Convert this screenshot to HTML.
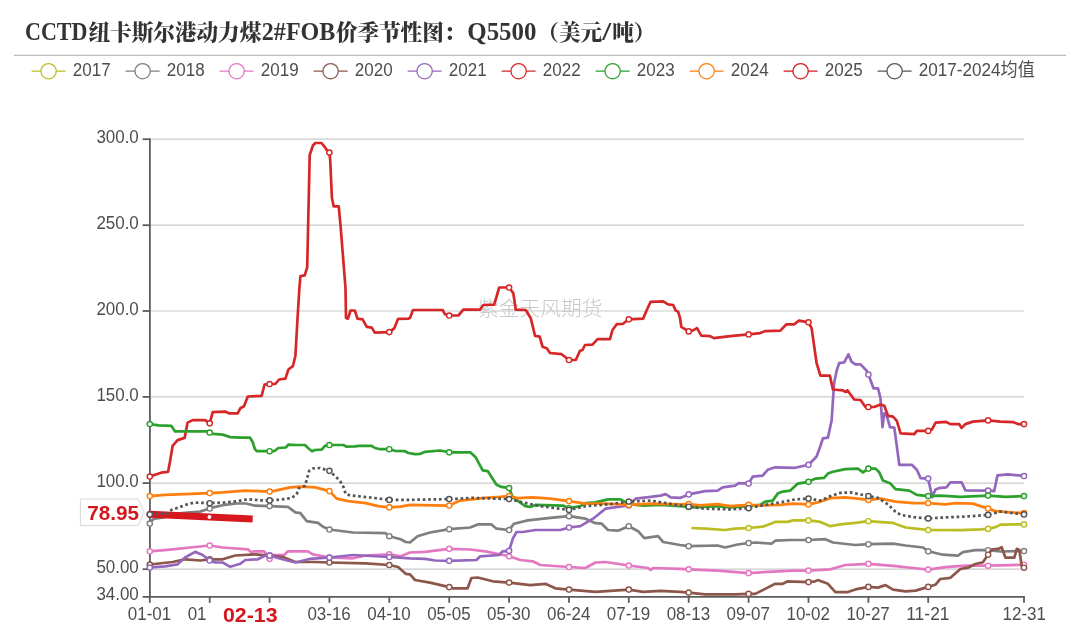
<!DOCTYPE html>
<html lang="zh-CN"><head><meta charset="utf-8"><title>CCTD纽卡斯尔港动力煤2#FOB价季节性图</title>
<style>
html,body{margin:0;padding:0;background:#fff;}
body{width:1080px;height:630px;overflow:hidden;position:relative;}
svg{display:block;position:absolute;left:0;top:0;}
.t{font-family:"Liberation Serif","Noto Serif CJK SC",serif;font-weight:900;font-size:21.6px;fill:#333;}
.lg{font-family:"Liberation Sans","Noto Sans CJK SC",sans-serif;font-size:18px;fill:#4d4d4d;}
.ax{font-family:"Liberation Sans","Noto Sans CJK SC",sans-serif;font-size:18px;fill:#4d4d4d;}
.hl{font-family:"Liberation Sans","Noto Sans CJK SC",sans-serif;font-weight:700;font-size:20.3px;fill:#d6161f;}
.wm{font-family:"Liberation Sans","Noto Sans CJK SC",sans-serif;font-weight:300;font-size:20.7px;fill:#c9c9c9;}
.tl{font-size:24.4px;}
</style></head><body>
<svg width="1080" height="630" viewBox="0 0 1080 630">
<rect width="1080" height="630" fill="#fff"/>

<text class="t" y="40"><tspan class="tl" x="25" textLength="62.5" lengthAdjust="spacingAndGlyphs">CCTD</tspan><tspan x="88.5">纽卡斯尔港动力煤</tspan><tspan class="tl" x="261.8" textLength="73.6" lengthAdjust="spacingAndGlyphs">2#FOB</tspan><tspan x="335.9">价季节性图：</tspan><tspan class="tl" x="467.3" textLength="69.2" lengthAdjust="spacingAndGlyphs">Q5500</tspan><tspan x="537.3">（美元</tspan><tspan class="tl" x="602.3" textLength="9" lengthAdjust="spacingAndGlyphs">/</tspan><tspan x="612.2">吨）</tspan></text>
<line x1="14" y1="55.4" x2="1066" y2="55.4" stroke="#bdbdbd" stroke-width="1.3"/>
<g><line x1="31.6" y1="71.2" x2="65.6" y2="71.2" stroke="#bcbd22" stroke-width="1.3"/><circle cx="48.6" cy="71.2" r="7.65" fill="#fff" stroke="#bcbd22" stroke-width="1.3"/>
<text class="lg" x="72.8" y="75.5" textLength="37.8" lengthAdjust="spacingAndGlyphs">2017</text></g>
<g><line x1="125.6" y1="71.2" x2="159.6" y2="71.2" stroke="#7f7f7f" stroke-width="1.3"/><circle cx="142.6" cy="71.2" r="7.65" fill="#fff" stroke="#7f7f7f" stroke-width="1.3"/>
<text class="lg" x="166.8" y="75.5" textLength="37.8" lengthAdjust="spacingAndGlyphs">2018</text></g>
<g><line x1="219.6" y1="71.2" x2="253.6" y2="71.2" stroke="#e377c2" stroke-width="1.3"/><circle cx="236.6" cy="71.2" r="7.65" fill="#fff" stroke="#e377c2" stroke-width="1.3"/>
<text class="lg" x="260.8" y="75.5" textLength="37.8" lengthAdjust="spacingAndGlyphs">2019</text></g>
<g><line x1="313.6" y1="71.2" x2="347.6" y2="71.2" stroke="#8c564b" stroke-width="1.3"/><circle cx="330.6" cy="71.2" r="7.65" fill="#fff" stroke="#8c564b" stroke-width="1.3"/>
<text class="lg" x="354.8" y="75.5" textLength="37.8" lengthAdjust="spacingAndGlyphs">2020</text></g>
<g><line x1="407.6" y1="71.2" x2="441.6" y2="71.2" stroke="#9467bd" stroke-width="1.3"/><circle cx="424.6" cy="71.2" r="7.65" fill="#fff" stroke="#9467bd" stroke-width="1.3"/>
<text class="lg" x="448.8" y="75.5" textLength="37.8" lengthAdjust="spacingAndGlyphs">2021</text></g>
<g><line x1="501.6" y1="71.2" x2="535.6" y2="71.2" stroke="#d62728" stroke-width="1.3"/><circle cx="518.6" cy="71.2" r="7.65" fill="#fff" stroke="#d62728" stroke-width="1.3"/>
<text class="lg" x="542.8" y="75.5" textLength="37.8" lengthAdjust="spacingAndGlyphs">2022</text></g>
<g><line x1="595.6" y1="71.2" x2="629.6" y2="71.2" stroke="#2ca02c" stroke-width="1.3"/><circle cx="612.6" cy="71.2" r="7.65" fill="#fff" stroke="#2ca02c" stroke-width="1.3"/>
<text class="lg" x="636.8" y="75.5" textLength="37.8" lengthAdjust="spacingAndGlyphs">2023</text></g>
<g><line x1="689.6" y1="71.2" x2="723.6" y2="71.2" stroke="#ff7f0e" stroke-width="1.3"/><circle cx="706.6" cy="71.2" r="7.65" fill="#fff" stroke="#ff7f0e" stroke-width="1.3"/>
<text class="lg" x="730.8" y="75.5" textLength="37.8" lengthAdjust="spacingAndGlyphs">2024</text></g>
<g><line x1="783.6" y1="71.2" x2="817.6" y2="71.2" stroke="#d7191f" stroke-width="1.3"/><circle cx="800.6" cy="71.2" r="7.65" fill="#fff" stroke="#d7191f" stroke-width="1.3"/>
<text class="lg" x="824.8" y="75.5" textLength="37.8" lengthAdjust="spacingAndGlyphs">2025</text></g>
<g><line x1="877.6" y1="71.2" x2="911.6" y2="71.2" stroke="#555555" stroke-width="1.3"/><circle cx="894.6" cy="71.2" r="7.65" fill="#fff" stroke="#555555" stroke-width="1.3"/>
<text class="lg" x="918.8" y="75.5" textLength="116" lengthAdjust="spacingAndGlyphs">2017-2024均值</text></g>
<line x1="150" y1="139.2" x2="1024" y2="139.2" stroke="#cacaca" stroke-width="1.2"/>
<line x1="150" y1="225.2" x2="1024" y2="225.2" stroke="#cacaca" stroke-width="1.2"/>
<line x1="150" y1="311.0" x2="1024" y2="311.0" stroke="#cacaca" stroke-width="1.2"/>
<line x1="150" y1="396.9" x2="1024" y2="396.9" stroke="#cacaca" stroke-width="1.2"/>
<line x1="150" y1="483.1" x2="1024" y2="483.1" stroke="#cacaca" stroke-width="1.2"/>
<line x1="150" y1="569.2" x2="1024" y2="569.2" stroke="#cacaca" stroke-width="1.2"/>
<text class="wm" x="478" y="315.5" textLength="124.5" lengthAdjust="spacingAndGlyphs">紫金天风期货</text>
<line x1="149.9" y1="138.4" x2="149.9" y2="597.8" stroke="#5c5c5c" stroke-width="1.8"/>
<line x1="149" y1="596.9" x2="1024.9" y2="596.9" stroke="#5c5c5c" stroke-width="1.8"/>
<line x1="142.6" y1="139.2" x2="150" y2="139.2" stroke="#5c5c5c" stroke-width="1.8"/>
<text class="ax" x="138.8" y="143.4" text-anchor="end" textLength="42.4" lengthAdjust="spacingAndGlyphs">300.0</text>
<line x1="142.6" y1="225.2" x2="150" y2="225.2" stroke="#5c5c5c" stroke-width="1.8"/>
<text class="ax" x="138.8" y="229.4" text-anchor="end" textLength="42.4" lengthAdjust="spacingAndGlyphs">250.0</text>
<line x1="142.6" y1="311.0" x2="150" y2="311.0" stroke="#5c5c5c" stroke-width="1.8"/>
<text class="ax" x="138.8" y="315.2" text-anchor="end" textLength="42.4" lengthAdjust="spacingAndGlyphs">200.0</text>
<line x1="142.6" y1="396.9" x2="150" y2="396.9" stroke="#5c5c5c" stroke-width="1.8"/>
<text class="ax" x="138.8" y="401.1" text-anchor="end" textLength="42.4" lengthAdjust="spacingAndGlyphs">150.0</text>
<line x1="142.6" y1="483.1" x2="150" y2="483.1" stroke="#5c5c5c" stroke-width="1.8"/>
<text class="ax" x="138.8" y="487.3" text-anchor="end" textLength="42.4" lengthAdjust="spacingAndGlyphs">100.0</text>
<line x1="142.6" y1="569.2" x2="150" y2="569.2" stroke="#5c5c5c" stroke-width="1.8"/>
<text class="ax" x="138.8" y="573.4" text-anchor="end" textLength="42.4" lengthAdjust="spacingAndGlyphs">50.00</text>
<line x1="142.6" y1="596.9" x2="150" y2="596.9" stroke="#5c5c5c" stroke-width="1.8"/>
<text class="ax" x="138.8" y="600.2" text-anchor="end" textLength="42.4" lengthAdjust="spacingAndGlyphs">34.00</text>
<line x1="149.8" y1="596.9" x2="149.8" y2="602.8" stroke="#5c5c5c" stroke-width="1.8"/>
<text class="ax" x="149.5" y="620" text-anchor="middle" textLength="43.4" lengthAdjust="spacingAndGlyphs">01-01</text>
<line x1="209.7" y1="596.9" x2="209.7" y2="602.8" stroke="#5c5c5c" stroke-width="1.8"/>
<text class="ax" x="209.4" y="620" text-anchor="middle" textLength="43.4" lengthAdjust="spacingAndGlyphs">01-26</text>
<line x1="269.6" y1="596.9" x2="269.6" y2="602.8" stroke="#5c5c5c" stroke-width="1.8"/>
<line x1="329.4" y1="596.9" x2="329.4" y2="602.8" stroke="#5c5c5c" stroke-width="1.8"/>
<text class="ax" x="329.1" y="620" text-anchor="middle" textLength="43.4" lengthAdjust="spacingAndGlyphs">03-16</text>
<line x1="389.3" y1="596.9" x2="389.3" y2="602.8" stroke="#5c5c5c" stroke-width="1.8"/>
<text class="ax" x="389.0" y="620" text-anchor="middle" textLength="43.4" lengthAdjust="spacingAndGlyphs">04-10</text>
<line x1="449.2" y1="596.9" x2="449.2" y2="602.8" stroke="#5c5c5c" stroke-width="1.8"/>
<text class="ax" x="448.9" y="620" text-anchor="middle" textLength="43.4" lengthAdjust="spacingAndGlyphs">05-05</text>
<line x1="509.1" y1="596.9" x2="509.1" y2="602.8" stroke="#5c5c5c" stroke-width="1.8"/>
<text class="ax" x="508.8" y="620" text-anchor="middle" textLength="43.4" lengthAdjust="spacingAndGlyphs">05-30</text>
<line x1="569.0" y1="596.9" x2="569.0" y2="602.8" stroke="#5c5c5c" stroke-width="1.8"/>
<text class="ax" x="568.7" y="620" text-anchor="middle" textLength="43.4" lengthAdjust="spacingAndGlyphs">06-24</text>
<line x1="628.8" y1="596.9" x2="628.8" y2="602.8" stroke="#5c5c5c" stroke-width="1.8"/>
<text class="ax" x="628.5" y="620" text-anchor="middle" textLength="43.4" lengthAdjust="spacingAndGlyphs">07-19</text>
<line x1="688.7" y1="596.9" x2="688.7" y2="602.8" stroke="#5c5c5c" stroke-width="1.8"/>
<text class="ax" x="688.4" y="620" text-anchor="middle" textLength="43.4" lengthAdjust="spacingAndGlyphs">08-13</text>
<line x1="748.6" y1="596.9" x2="748.6" y2="602.8" stroke="#5c5c5c" stroke-width="1.8"/>
<text class="ax" x="748.3" y="620" text-anchor="middle" textLength="43.4" lengthAdjust="spacingAndGlyphs">09-07</text>
<line x1="808.5" y1="596.9" x2="808.5" y2="602.8" stroke="#5c5c5c" stroke-width="1.8"/>
<text class="ax" x="808.2" y="620" text-anchor="middle" textLength="43.4" lengthAdjust="spacingAndGlyphs">10-02</text>
<line x1="868.4" y1="596.9" x2="868.4" y2="602.8" stroke="#5c5c5c" stroke-width="1.8"/>
<text class="ax" x="868.1" y="620" text-anchor="middle" textLength="43.4" lengthAdjust="spacingAndGlyphs">10-27</text>
<line x1="928.2" y1="596.9" x2="928.2" y2="602.8" stroke="#5c5c5c" stroke-width="1.8"/>
<text class="ax" x="927.9" y="620" text-anchor="middle" textLength="43.4" lengthAdjust="spacingAndGlyphs">11-21</text>
<line x1="1024.0" y1="596.9" x2="1024.0" y2="602.8" stroke="#5c5c5c" stroke-width="1.8"/>
<text class="ax" x="1024.3" y="620" text-anchor="middle" textLength="43.4" lengthAdjust="spacingAndGlyphs">12-31</text>
<g><path d="M691.3 528.0 L705.1 528.7 L725.1 530.0 L735.1 528.7 L748.6 528.0 L762.7 526.7 L775.2 521.9 L787.8 521.9 L792.8 520.4 L808.5 520.4 L820.4 521.9 L830.4 526.2 L840.4 524.4 L855.4 522.9 L868.4 521.2 L878.0 521.9 L893.0 522.9 L905.6 527.5 L915.6 528.7 L928.2 530.0 L960.4 530.2 L980.4 529.4 L988.1 528.9 L995.5 527.1 L1000.5 524.6 L1024.0 524.4" fill="none" stroke="#bcbd22" stroke-width="2.7" stroke-linejoin="round"/>
<circle cx="748.6" cy="528.0" r="2.6" fill="#fff" stroke="#bcbd22" stroke-width="1.45"/>
<circle cx="808.5" cy="520.4" r="2.6" fill="#fff" stroke="#bcbd22" stroke-width="1.45"/>
<circle cx="868.4" cy="521.2" r="2.6" fill="#fff" stroke="#bcbd22" stroke-width="1.45"/>
<circle cx="928.2" cy="530.0" r="2.6" fill="#fff" stroke="#bcbd22" stroke-width="1.45"/>
<circle cx="988.1" cy="528.9" r="2.6" fill="#fff" stroke="#bcbd22" stroke-width="1.45"/>
<circle cx="1024.0" cy="524.4" r="2.6" fill="#fff" stroke="#bcbd22" stroke-width="1.45"/>
</g>
<g><path d="M149.8 523.6 L151.5 520.5 L154.5 518.6 L164.0 517.5 L167.0 516.0 L182.0 513.2 L200.0 511.6 L205.0 510.0 L209.7 508.5 L212.0 507.6 L222.7 505.2 L236.4 503.5 L246.0 503.5 L255.3 505.7 L269.6 506.1 L287.9 506.9 L295.4 512.4 L300.4 513.2 L306.7 521.2 L318.0 522.9 L323.0 526.7 L329.4 529.5 L353.0 532.5 L385.6 533.2 L389.3 536.2 L400.7 539.2 L405.7 542.0 L410.0 542.5 L417.5 536.2 L430.0 532.5 L449.2 529.2 L470.2 527.5 L477.7 524.4 L491.5 524.4 L496.5 528.7 L509.1 530.0 L514.0 523.7 L527.8 520.4 L550.4 517.9 L569.0 516.2 L585.4 518.7 L595.5 523.2 L601.7 523.7 L608.0 530.0 L618.0 530.7 L628.8 526.2 L638.1 531.2 L644.3 538.2 L658.1 536.2 L663.1 542.0 L680.0 545.0 L688.7 546.2 L717.6 545.5 L725.1 547.5 L737.6 544.5 L748.6 543.0 L755.2 542.5 L771.5 543.7 L775.2 540.7 L790.3 540.0 L808.5 540.0 L825.4 539.2 L832.9 542.5 L855.4 545.0 L868.4 544.2 L893.0 543.7 L905.6 545.5 L923.1 547.5 L928.2 551.3 L942.8 554.7 L957.9 555.7 L962.9 552.2 L975.4 550.2 L988.1 550.2 L1000.5 551.5 L1024.0 551.0" fill="none" stroke="#7f7f7f" stroke-width="2.7" stroke-linejoin="round"/>
<circle cx="149.8" cy="523.6" r="2.6" fill="#fff" stroke="#7f7f7f" stroke-width="1.45"/>
<circle cx="209.7" cy="508.5" r="2.6" fill="#fff" stroke="#7f7f7f" stroke-width="1.45"/>
<circle cx="269.6" cy="506.1" r="2.6" fill="#fff" stroke="#7f7f7f" stroke-width="1.45"/>
<circle cx="329.4" cy="529.5" r="2.6" fill="#fff" stroke="#7f7f7f" stroke-width="1.45"/>
<circle cx="389.3" cy="536.2" r="2.6" fill="#fff" stroke="#7f7f7f" stroke-width="1.45"/>
<circle cx="449.2" cy="529.2" r="2.6" fill="#fff" stroke="#7f7f7f" stroke-width="1.45"/>
<circle cx="509.1" cy="530.0" r="2.6" fill="#fff" stroke="#7f7f7f" stroke-width="1.45"/>
<circle cx="569.0" cy="516.2" r="2.6" fill="#fff" stroke="#7f7f7f" stroke-width="1.45"/>
<circle cx="628.8" cy="526.2" r="2.6" fill="#fff" stroke="#7f7f7f" stroke-width="1.45"/>
<circle cx="688.7" cy="546.2" r="2.6" fill="#fff" stroke="#7f7f7f" stroke-width="1.45"/>
<circle cx="748.6" cy="543.0" r="2.6" fill="#fff" stroke="#7f7f7f" stroke-width="1.45"/>
<circle cx="808.5" cy="540.0" r="2.6" fill="#fff" stroke="#7f7f7f" stroke-width="1.45"/>
<circle cx="868.4" cy="544.2" r="2.6" fill="#fff" stroke="#7f7f7f" stroke-width="1.45"/>
<circle cx="928.2" cy="551.3" r="2.6" fill="#fff" stroke="#7f7f7f" stroke-width="1.45"/>
<circle cx="988.1" cy="550.2" r="2.6" fill="#fff" stroke="#7f7f7f" stroke-width="1.45"/>
<circle cx="1024.0" cy="551.0" r="2.6" fill="#fff" stroke="#7f7f7f" stroke-width="1.45"/>
</g>
<g><path d="M149.8 551.3 L172.6 549.3 L190.1 547.5 L209.7 545.5 L222.7 547.5 L247.8 549.3 L251.5 552.5 L254.0 551.3 L264.1 551.3 L269.6 558.8 L272.8 555.0 L284.1 555.0 L287.9 551.3 L307.9 551.3 L312.9 554.3 L329.4 557.5 L353.0 558.3 L365.6 555.5 L389.3 554.3 L400.7 556.3 L410.0 552.5 L425.0 551.8 L449.2 548.8 L470.2 549.5 L485.2 551.3 L509.1 556.3 L520.3 560.0 L532.8 561.3 L540.3 565.0 L569.0 567.0 L585.4 568.0 L595.5 562.5 L605.5 562.0 L628.8 565.5 L648.1 568.0 L650.6 570.0 L653.1 568.0 L680.0 568.8 L688.7 569.3 L717.6 570.6 L748.6 573.1 L767.7 571.8 L792.8 570.6 L808.5 570.6 L830.4 569.3 L845.4 565.0 L868.4 563.8 L893.0 565.8 L913.1 568.0 L928.2 569.6 L945.3 567.2 L965.4 565.7 L988.1 565.7 L1010.5 565.2 L1024.0 564.7" fill="none" stroke="#e377c2" stroke-width="2.7" stroke-linejoin="round"/>
<circle cx="149.8" cy="551.3" r="2.6" fill="#fff" stroke="#e377c2" stroke-width="1.45"/>
<circle cx="209.7" cy="545.5" r="2.6" fill="#fff" stroke="#e377c2" stroke-width="1.45"/>
<circle cx="269.6" cy="558.8" r="2.6" fill="#fff" stroke="#e377c2" stroke-width="1.45"/>
<circle cx="329.4" cy="557.5" r="2.6" fill="#fff" stroke="#e377c2" stroke-width="1.45"/>
<circle cx="389.3" cy="554.3" r="2.6" fill="#fff" stroke="#e377c2" stroke-width="1.45"/>
<circle cx="449.2" cy="548.8" r="2.6" fill="#fff" stroke="#e377c2" stroke-width="1.45"/>
<circle cx="509.1" cy="556.3" r="2.6" fill="#fff" stroke="#e377c2" stroke-width="1.45"/>
<circle cx="569.0" cy="567.0" r="2.6" fill="#fff" stroke="#e377c2" stroke-width="1.45"/>
<circle cx="628.8" cy="565.5" r="2.6" fill="#fff" stroke="#e377c2" stroke-width="1.45"/>
<circle cx="688.7" cy="569.3" r="2.6" fill="#fff" stroke="#e377c2" stroke-width="1.45"/>
<circle cx="748.6" cy="573.1" r="2.6" fill="#fff" stroke="#e377c2" stroke-width="1.45"/>
<circle cx="808.5" cy="570.6" r="2.6" fill="#fff" stroke="#e377c2" stroke-width="1.45"/>
<circle cx="868.4" cy="563.8" r="2.6" fill="#fff" stroke="#e377c2" stroke-width="1.45"/>
<circle cx="928.2" cy="569.6" r="2.6" fill="#fff" stroke="#e377c2" stroke-width="1.45"/>
<circle cx="988.1" cy="565.7" r="2.6" fill="#fff" stroke="#e377c2" stroke-width="1.45"/>
<circle cx="1024.0" cy="564.7" r="2.6" fill="#fff" stroke="#e377c2" stroke-width="1.45"/>
</g>
<g><path d="M149.8 564.5 L172.6 562.0 L185.1 559.3 L200.2 560.5 L209.7 559.3 L222.7 559.3 L235.2 555.5 L255.3 554.3 L269.6 555.5 L282.9 557.0 L295.4 562.0 L315.4 562.0 L329.4 562.5 L365.6 563.3 L389.3 565.0 L398.1 567.0 L405.7 573.8 L410.0 574.3 L415.0 580.0 L430.0 582.6 L449.2 587.1 L452.6 588.3 L467.6 588.3 L471.4 578.0 L477.7 577.5 L492.7 581.3 L509.1 582.6 L530.3 585.1 L545.3 583.8 L555.4 588.3 L569.0 589.6 L595.5 591.8 L610.5 590.8 L628.8 589.6 L643.1 591.8 L660.6 590.8 L680.0 591.8 L688.7 592.6 L705.1 594.4 L735.1 594.4 L748.6 593.9 L755.2 593.9 L765.2 588.9 L775.2 583.8 L782.8 583.8 L787.8 581.3 L808.5 582.1 L815.3 581.3 L817.8 580.1 L827.9 583.8 L835.4 592.1 L847.9 592.1 L855.4 589.4 L868.4 586.9 L878.0 587.6 L885.5 585.1 L893.0 589.6 L905.6 591.4 L915.6 590.6 L928.2 586.9 L935.3 584.8 L940.3 579.0 L950.4 577.8 L960.4 569.0 L967.9 567.7 L975.4 564.0 L982.9 562.2 L988.1 554.7 L991.7 549.7 L998.0 548.9 L1001.7 547.2 L1005.5 557.7 L1014.3 557.7 L1016.8 548.9 L1019.3 549.7 L1021.8 566.5 L1024.0 567.7" fill="none" stroke="#8c564b" stroke-width="2.7" stroke-linejoin="round"/>
<circle cx="149.8" cy="564.5" r="2.6" fill="#fff" stroke="#8c564b" stroke-width="1.45"/>
<circle cx="209.7" cy="559.3" r="2.6" fill="#fff" stroke="#8c564b" stroke-width="1.45"/>
<circle cx="269.6" cy="555.5" r="2.6" fill="#fff" stroke="#8c564b" stroke-width="1.45"/>
<circle cx="329.4" cy="562.5" r="2.6" fill="#fff" stroke="#8c564b" stroke-width="1.45"/>
<circle cx="389.3" cy="565.0" r="2.6" fill="#fff" stroke="#8c564b" stroke-width="1.45"/>
<circle cx="449.2" cy="587.1" r="2.6" fill="#fff" stroke="#8c564b" stroke-width="1.45"/>
<circle cx="509.1" cy="582.6" r="2.6" fill="#fff" stroke="#8c564b" stroke-width="1.45"/>
<circle cx="569.0" cy="589.6" r="2.6" fill="#fff" stroke="#8c564b" stroke-width="1.45"/>
<circle cx="628.8" cy="589.6" r="2.6" fill="#fff" stroke="#8c564b" stroke-width="1.45"/>
<circle cx="688.7" cy="592.6" r="2.6" fill="#fff" stroke="#8c564b" stroke-width="1.45"/>
<circle cx="748.6" cy="593.9" r="2.6" fill="#fff" stroke="#8c564b" stroke-width="1.45"/>
<circle cx="808.5" cy="582.1" r="2.6" fill="#fff" stroke="#8c564b" stroke-width="1.45"/>
<circle cx="868.4" cy="586.9" r="2.6" fill="#fff" stroke="#8c564b" stroke-width="1.45"/>
<circle cx="928.2" cy="586.9" r="2.6" fill="#fff" stroke="#8c564b" stroke-width="1.45"/>
<circle cx="988.1" cy="554.7" r="2.6" fill="#fff" stroke="#8c564b" stroke-width="1.45"/>
<circle cx="1024.0" cy="567.7" r="2.6" fill="#fff" stroke="#8c564b" stroke-width="1.45"/>
</g>
<g><path d="M149.8 567.5 L165.0 566.3 L177.6 564.3 L185.1 557.5 L195.1 551.8 L202.7 555.0 L209.7 560.5 L215.2 562.5 L222.7 562.5 L230.2 566.8 L240.3 563.8 L245.3 560.0 L257.8 559.3 L265.3 555.5 L269.6 555.5 L280.4 558.8 L295.4 562.5 L310.4 558.8 L329.4 557.5 L353.0 555.0 L389.3 557.0 L410.0 558.3 L425.0 558.8 L435.0 560.5 L449.2 560.8 L476.4 560.0 L480.2 556.3 L499.0 555.0 L502.7 551.3 L509.1 550.8 L512.8 538.7 L516.5 532.0 L522.8 532.0 L535.3 530.0 L560.4 530.0 L569.0 527.5 L580.4 526.2 L593.0 518.7 L605.5 508.7 L618.0 506.9 L628.8 505.4 L635.6 498.6 L650.6 496.9 L660.6 495.6 L665.6 494.1 L670.7 497.4 L680.0 497.9 L688.7 494.4 L705.1 491.1 L717.6 490.6 L722.6 487.4 L735.1 485.6 L738.9 483.1 L748.6 483.6 L752.7 476.6 L762.7 475.6 L767.7 469.8 L775.2 467.3 L795.3 467.8 L808.5 464.8 L816.6 456.5 L820.4 446.0 L822.9 438.4 L827.9 437.6 L831.6 420.8 L834.1 383.2 L836.6 370.7 L839.1 363.2 L844.2 362.4 L848.4 354.4 L851.7 361.9 L855.4 364.4 L860.5 364.4 L866.7 370.7 L868.4 374.5 L873.5 388.3 L878.0 388.3 L880.5 398.3 L882.5 427.1 L884.3 413.3 L886.8 415.8 L890.0 427.1 L894.3 427.6 L896.8 446.0 L899.3 464.8 L911.8 464.8 L916.8 469.8 L920.6 478.1 L928.2 478.6 L932.3 497.3 L935.3 489.8 L939.1 488.1 L946.6 487.3 L950.4 482.3 L961.6 482.3 L965.4 490.3 L988.1 490.6 L994.2 491.1 L997.5 475.3 L1008.0 474.3 L1024.0 476.0" fill="none" stroke="#9467bd" stroke-width="2.7" stroke-linejoin="round"/>
<circle cx="149.8" cy="567.5" r="2.6" fill="#fff" stroke="#9467bd" stroke-width="1.45"/>
<circle cx="209.7" cy="560.5" r="2.6" fill="#fff" stroke="#9467bd" stroke-width="1.45"/>
<circle cx="269.6" cy="555.5" r="2.6" fill="#fff" stroke="#9467bd" stroke-width="1.45"/>
<circle cx="329.4" cy="557.5" r="2.6" fill="#fff" stroke="#9467bd" stroke-width="1.45"/>
<circle cx="389.3" cy="557.0" r="2.6" fill="#fff" stroke="#9467bd" stroke-width="1.45"/>
<circle cx="449.2" cy="560.8" r="2.6" fill="#fff" stroke="#9467bd" stroke-width="1.45"/>
<circle cx="509.1" cy="550.8" r="2.6" fill="#fff" stroke="#9467bd" stroke-width="1.45"/>
<circle cx="569.0" cy="527.5" r="2.6" fill="#fff" stroke="#9467bd" stroke-width="1.45"/>
<circle cx="628.8" cy="505.4" r="2.6" fill="#fff" stroke="#9467bd" stroke-width="1.45"/>
<circle cx="688.7" cy="494.4" r="2.6" fill="#fff" stroke="#9467bd" stroke-width="1.45"/>
<circle cx="748.6" cy="483.6" r="2.6" fill="#fff" stroke="#9467bd" stroke-width="1.45"/>
<circle cx="808.5" cy="464.8" r="2.6" fill="#fff" stroke="#9467bd" stroke-width="1.45"/>
<circle cx="868.4" cy="374.5" r="2.6" fill="#fff" stroke="#9467bd" stroke-width="1.45"/>
<circle cx="928.2" cy="478.6" r="2.6" fill="#fff" stroke="#9467bd" stroke-width="1.45"/>
<circle cx="988.1" cy="490.6" r="2.6" fill="#fff" stroke="#9467bd" stroke-width="1.45"/>
<circle cx="1024.0" cy="476.0" r="2.6" fill="#fff" stroke="#9467bd" stroke-width="1.45"/>
</g>
<g><path d="M149.8 476.6 L155.0 474.8 L162.6 472.3 L168.1 471.8 L170.1 461.0 L172.6 445.9 L177.6 440.1 L184.6 437.9 L187.6 422.6 L192.6 420.1 L205.2 420.1 L209.7 423.3 L212.7 412.1 L225.2 411.6 L229.0 413.3 L237.7 413.3 L240.3 408.3 L244.0 406.3 L247.8 396.5 L261.6 395.8 L264.6 384.5 L269.6 384.0 L275.3 384.0 L279.1 379.5 L285.4 378.7 L288.4 369.5 L292.9 366.2 L295.4 355.7 L297.4 320.6 L299.4 288.0 L300.4 276.1 L304.7 275.4 L307.2 267.3 L309.7 155.1 L312.9 145.5 L315.4 143.0 L321.5 143.0 L324.2 146.3 L327.5 151.0 L329.4 152.5 L330.2 160.0 L331.9 197.7 L333.7 206.4 L338.7 206.4 L340.5 225.2 L343.5 262.8 L345.5 288.0 L346.0 318.0 L348.0 318.6 L350.5 310.5 L354.8 310.5 L357.5 318.6 L362.6 319.3 L366.8 326.8 L371.8 327.6 L374.8 332.6 L389.3 332.1 L394.4 328.1 L398.1 318.8 L408.2 318.6 L410.0 318.0 L413.0 310.0 L442.6 310.0 L445.0 314.3 L449.2 315.5 L458.3 315.5 L463.3 309.7 L480.0 309.7 L483.3 305.0 L494.2 304.7 L499.2 287.5 L509.1 287.5 L513.3 293.3 L515.8 309.7 L525.8 310.0 L530.8 318.3 L535.0 335.8 L539.7 336.7 L542.5 346.7 L546.7 348.3 L550.0 353.0 L561.7 354.2 L569.0 360.0 L575.8 360.0 L580.0 350.8 L582.5 350.0 L585.0 345.0 L592.5 344.7 L597.5 339.2 L610.0 339.2 L612.5 330.0 L616.7 324.2 L623.0 323.8 L628.8 319.3 L643.1 318.6 L646.8 310.0 L650.6 301.8 L663.1 301.3 L668.1 304.3 L673.2 305.0 L675.7 310.6 L678.2 311.8 L680.0 318.0 L681.3 326.8 L688.7 331.4 L692.5 330.6 L697.0 328.1 L701.3 335.6 L710.1 336.1 L713.8 338.1 L730.1 336.1 L748.6 334.4 L760.2 333.1 L765.2 331.1 L780.3 330.6 L786.5 324.3 L794.0 324.3 L799.0 320.6 L808.5 322.3 L811.6 328.1 L816.6 363.2 L820.4 375.7 L829.9 375.7 L832.9 389.5 L842.9 390.3 L845.4 392.0 L847.4 390.3 L854.2 399.5 L860.5 400.0 L865.5 407.0 L874.2 407.0 L880.5 404.5 L884.3 405.8 L888.0 415.8 L893.0 416.6 L896.8 420.8 L900.6 433.4 L914.3 434.1 L916.8 430.9 L928.2 430.9 L931.9 429.6 L935.6 422.6 L945.7 421.8 L950.4 424.1 L959.1 424.1 L961.6 427.9 L965.4 424.1 L972.9 421.6 L988.1 420.4 L1000.5 421.6 L1013.0 422.1 L1018.0 424.1 L1024.0 424.1" fill="none" stroke="#d62728" stroke-width="2.7" stroke-linejoin="round"/>
<circle cx="149.8" cy="476.6" r="2.6" fill="#fff" stroke="#d62728" stroke-width="1.45"/>
<circle cx="209.7" cy="423.3" r="2.6" fill="#fff" stroke="#d62728" stroke-width="1.45"/>
<circle cx="269.6" cy="384.0" r="2.6" fill="#fff" stroke="#d62728" stroke-width="1.45"/>
<circle cx="329.4" cy="152.5" r="2.6" fill="#fff" stroke="#d62728" stroke-width="1.45"/>
<circle cx="389.3" cy="332.1" r="2.6" fill="#fff" stroke="#d62728" stroke-width="1.45"/>
<circle cx="449.2" cy="315.5" r="2.6" fill="#fff" stroke="#d62728" stroke-width="1.45"/>
<circle cx="509.1" cy="287.5" r="2.6" fill="#fff" stroke="#d62728" stroke-width="1.45"/>
<circle cx="569.0" cy="360.0" r="2.6" fill="#fff" stroke="#d62728" stroke-width="1.45"/>
<circle cx="628.8" cy="319.3" r="2.6" fill="#fff" stroke="#d62728" stroke-width="1.45"/>
<circle cx="688.7" cy="331.4" r="2.6" fill="#fff" stroke="#d62728" stroke-width="1.45"/>
<circle cx="748.6" cy="334.4" r="2.6" fill="#fff" stroke="#d62728" stroke-width="1.45"/>
<circle cx="808.5" cy="322.3" r="2.6" fill="#fff" stroke="#d62728" stroke-width="1.45"/>
<circle cx="868.4" cy="407.0" r="2.6" fill="#fff" stroke="#d62728" stroke-width="1.45"/>
<circle cx="928.2" cy="430.9" r="2.6" fill="#fff" stroke="#d62728" stroke-width="1.45"/>
<circle cx="988.1" cy="420.4" r="2.6" fill="#fff" stroke="#d62728" stroke-width="1.45"/>
<circle cx="1024.0" cy="424.1" r="2.6" fill="#fff" stroke="#d62728" stroke-width="1.45"/>
</g>
<g><path d="M149.8 424.1 L158.8 425.3 L171.3 425.8 L175.1 431.4 L207.7 431.4 L209.7 432.6 L212.7 433.9 L222.7 434.6 L230.2 437.1 L240.0 437.6 L250.0 437.7 L252.5 441.7 L255.0 449.2 L256.7 451.2 L269.6 451.2 L274.2 451.2 L278.3 448.0 L285.8 447.5 L288.3 444.7 L296.7 445.0 L305.0 445.0 L308.3 448.3 L312.0 451.3 L315.0 450.0 L321.7 449.7 L325.0 445.8 L329.4 445.0 L343.3 445.0 L346.7 446.7 L355.0 446.3 L358.3 445.8 L371.7 445.8 L375.0 448.0 L380.0 449.2 L389.3 449.2 L395.0 450.8 L405.0 451.2 L408.3 453.0 L415.0 454.2 L420.0 454.0 L425.0 451.8 L440.0 450.5 L449.2 452.3 L470.2 452.3 L475.7 457.3 L482.7 470.3 L487.7 471.1 L496.5 484.8 L501.5 486.9 L509.1 488.1 L512.8 497.4 L525.3 506.2 L530.3 506.9 L535.3 504.9 L562.9 505.6 L569.0 508.2 L580.4 506.2 L585.4 503.1 L595.5 502.4 L608.0 499.4 L620.5 499.4 L628.8 504.1 L643.1 505.6 L660.6 504.9 L680.0 506.2 L695.0 507.4 L717.6 506.2 L730.1 507.4 L748.6 506.2 L760.2 504.9 L765.2 501.6 L772.7 500.6 L777.7 493.6 L782.8 491.6 L790.3 490.6 L797.8 483.6 L808.5 481.8 L815.3 478.6 L824.1 477.8 L827.9 473.6 L832.9 471.8 L845.4 469.1 L857.9 468.6 L863.0 472.3 L868.4 468.6 L875.5 468.6 L879.2 472.3 L883.0 480.6 L890.5 483.6 L895.5 489.1 L909.3 490.6 L916.8 494.9 L928.2 496.1 L940.3 495.6 L960.4 496.8 L988.1 495.6 L1005.5 496.8 L1024.0 496.1" fill="none" stroke="#2ca02c" stroke-width="2.7" stroke-linejoin="round"/>
<circle cx="149.8" cy="424.1" r="2.6" fill="#fff" stroke="#2ca02c" stroke-width="1.45"/>
<circle cx="209.7" cy="432.6" r="2.6" fill="#fff" stroke="#2ca02c" stroke-width="1.45"/>
<circle cx="269.6" cy="451.2" r="2.6" fill="#fff" stroke="#2ca02c" stroke-width="1.45"/>
<circle cx="329.4" cy="445.0" r="2.6" fill="#fff" stroke="#2ca02c" stroke-width="1.45"/>
<circle cx="389.3" cy="449.2" r="2.6" fill="#fff" stroke="#2ca02c" stroke-width="1.45"/>
<circle cx="449.2" cy="452.3" r="2.6" fill="#fff" stroke="#2ca02c" stroke-width="1.45"/>
<circle cx="509.1" cy="488.1" r="2.6" fill="#fff" stroke="#2ca02c" stroke-width="1.45"/>
<circle cx="569.0" cy="508.2" r="2.6" fill="#fff" stroke="#2ca02c" stroke-width="1.45"/>
<circle cx="628.8" cy="504.1" r="2.6" fill="#fff" stroke="#2ca02c" stroke-width="1.45"/>
<circle cx="688.7" cy="506.9" r="2.6" fill="#fff" stroke="#2ca02c" stroke-width="1.45"/>
<circle cx="748.6" cy="506.2" r="2.6" fill="#fff" stroke="#2ca02c" stroke-width="1.45"/>
<circle cx="808.5" cy="481.8" r="2.6" fill="#fff" stroke="#2ca02c" stroke-width="1.45"/>
<circle cx="868.4" cy="468.6" r="2.6" fill="#fff" stroke="#2ca02c" stroke-width="1.45"/>
<circle cx="928.2" cy="496.1" r="2.6" fill="#fff" stroke="#2ca02c" stroke-width="1.45"/>
<circle cx="988.1" cy="495.6" r="2.6" fill="#fff" stroke="#2ca02c" stroke-width="1.45"/>
<circle cx="1024.0" cy="496.1" r="2.6" fill="#fff" stroke="#2ca02c" stroke-width="1.45"/>
</g>
<g><path d="M149.8 496.1 L165.1 494.9 L209.7 493.1 L222.7 492.4 L245.3 490.6 L269.6 491.6 L275.3 490.6 L290.4 487.4 L300.4 486.6 L315.4 487.4 L329.4 491.1 L336.7 498.6 L348.0 501.1 L365.6 503.1 L378.1 506.1 L389.3 507.4 L400.7 506.7 L410.0 504.9 L435.0 505.4 L449.2 505.6 L460.1 500.6 L485.2 497.9 L500.2 496.9 L509.1 496.1 L517.8 498.1 L532.8 497.4 L550.4 498.6 L569.0 501.1 L585.4 503.6 L605.5 503.6 L628.8 504.9 L650.6 503.6 L680.0 504.4 L688.7 504.1 L700.0 505.4 L717.6 504.1 L730.1 506.2 L748.6 504.9 L762.7 505.4 L780.3 504.9 L792.8 503.6 L808.5 504.4 L817.8 502.4 L830.4 498.1 L845.4 497.4 L857.9 498.6 L868.4 499.9 L880.5 498.6 L895.5 501.6 L913.1 503.1 L928.2 503.1 L945.3 504.3 L955.4 503.1 L972.9 503.6 L988.1 508.6 L995.5 511.1 L1010.5 512.4 L1024.0 513.1" fill="none" stroke="#ff7f0e" stroke-width="2.7" stroke-linejoin="round"/>
<circle cx="149.8" cy="496.1" r="2.6" fill="#fff" stroke="#ff7f0e" stroke-width="1.45"/>
<circle cx="209.7" cy="493.1" r="2.6" fill="#fff" stroke="#ff7f0e" stroke-width="1.45"/>
<circle cx="269.6" cy="491.6" r="2.6" fill="#fff" stroke="#ff7f0e" stroke-width="1.45"/>
<circle cx="329.4" cy="491.1" r="2.6" fill="#fff" stroke="#ff7f0e" stroke-width="1.45"/>
<circle cx="389.3" cy="507.4" r="2.6" fill="#fff" stroke="#ff7f0e" stroke-width="1.45"/>
<circle cx="449.2" cy="505.6" r="2.6" fill="#fff" stroke="#ff7f0e" stroke-width="1.45"/>
<circle cx="509.1" cy="496.1" r="2.6" fill="#fff" stroke="#ff7f0e" stroke-width="1.45"/>
<circle cx="569.0" cy="501.1" r="2.6" fill="#fff" stroke="#ff7f0e" stroke-width="1.45"/>
<circle cx="628.8" cy="504.9" r="2.6" fill="#fff" stroke="#ff7f0e" stroke-width="1.45"/>
<circle cx="688.7" cy="504.1" r="2.6" fill="#fff" stroke="#ff7f0e" stroke-width="1.45"/>
<circle cx="748.6" cy="504.9" r="2.6" fill="#fff" stroke="#ff7f0e" stroke-width="1.45"/>
<circle cx="808.5" cy="504.4" r="2.6" fill="#fff" stroke="#ff7f0e" stroke-width="1.45"/>
<circle cx="868.4" cy="499.9" r="2.6" fill="#fff" stroke="#ff7f0e" stroke-width="1.45"/>
<circle cx="928.2" cy="503.1" r="2.6" fill="#fff" stroke="#ff7f0e" stroke-width="1.45"/>
<circle cx="988.1" cy="508.6" r="2.6" fill="#fff" stroke="#ff7f0e" stroke-width="1.45"/>
<circle cx="1024.0" cy="513.1" r="2.6" fill="#fff" stroke="#ff7f0e" stroke-width="1.45"/>
</g>
<g><path d="M150 514.2 L252.7 518.9" fill="none" stroke="#d7191f" stroke-width="7"/><circle cx="150" cy="514.2" r="3.5" fill="#d7191f"/><circle cx="209.4" cy="517" r="1.9" fill="#fff"/></g>
<g><path d="M149.8 514.4 L160.0 513.8 L168.0 513.4 L171.3 510.0 L179.8 507.0 L188.2 504.0 L194.2 502.6 L209.7 503.2 L224.3 502.5 L236.4 501.3 L248.4 499.2 L260.5 500.3 L269.6 500.4 L280.0 499.7 L291.7 498.0 L296.7 494.2 L298.7 488.3 L305.0 485.8 L309.2 470.8 L313.3 468.3 L320.0 468.0 L329.4 470.8 L340.0 480.8 L343.3 486.7 L345.8 494.2 L350.0 495.3 L370.0 497.5 L389.3 499.9 L411.7 499.8 L449.2 499.1 L472.7 497.9 L495.2 498.6 L509.1 499.1 L522.8 502.4 L540.3 506.2 L569.0 509.9 L585.4 506.2 L610.5 504.1 L628.8 501.6 L650.6 500.6 L680.0 505.4 L688.7 506.7 L705.1 508.7 L730.1 509.4 L748.6 508.2 L762.7 505.4 L780.3 502.4 L795.3 499.4 L808.5 498.6 L820.4 500.6 L830.4 496.1 L840.4 492.9 L850.4 492.4 L868.4 496.1 L878.0 497.9 L888.0 504.4 L895.5 511.7 L900.6 514.9 L915.6 517.4 L928.2 518.4 L945.3 517.4 L965.4 516.6 L988.1 514.9 L1000.5 511.6 L1024.0 514.4" fill="none" stroke="#555555" stroke-width="2.7" stroke-linejoin="round" stroke-dasharray="2.7 2.7"/>
<circle cx="149.8" cy="514.4" r="2.6" fill="#fff" stroke="#555555" stroke-width="1.45"/>
<circle cx="209.7" cy="503.2" r="2.6" fill="#fff" stroke="#555555" stroke-width="1.45"/>
<circle cx="269.6" cy="500.4" r="2.6" fill="#fff" stroke="#555555" stroke-width="1.45"/>
<circle cx="329.4" cy="470.8" r="2.6" fill="#fff" stroke="#555555" stroke-width="1.45"/>
<circle cx="389.3" cy="499.9" r="2.6" fill="#fff" stroke="#555555" stroke-width="1.45"/>
<circle cx="449.2" cy="499.1" r="2.6" fill="#fff" stroke="#555555" stroke-width="1.45"/>
<circle cx="509.1" cy="499.1" r="2.6" fill="#fff" stroke="#555555" stroke-width="1.45"/>
<circle cx="569.0" cy="509.9" r="2.6" fill="#fff" stroke="#555555" stroke-width="1.45"/>
<circle cx="628.8" cy="501.6" r="2.6" fill="#fff" stroke="#555555" stroke-width="1.45"/>
<circle cx="688.7" cy="506.7" r="2.6" fill="#fff" stroke="#555555" stroke-width="1.45"/>
<circle cx="748.6" cy="508.2" r="2.6" fill="#fff" stroke="#555555" stroke-width="1.45"/>
<circle cx="808.5" cy="498.6" r="2.6" fill="#fff" stroke="#555555" stroke-width="1.45"/>
<circle cx="868.4" cy="496.1" r="2.6" fill="#fff" stroke="#555555" stroke-width="1.45"/>
<circle cx="928.2" cy="518.4" r="2.6" fill="#fff" stroke="#555555" stroke-width="1.45"/>
<circle cx="988.1" cy="514.9" r="2.6" fill="#fff" stroke="#555555" stroke-width="1.45"/>
<circle cx="1024.0" cy="514.4" r="2.6" fill="#fff" stroke="#555555" stroke-width="1.45"/>
</g>
<rect x="206" y="603.5" width="88" height="24" fill="#fff"/>
<text class="hl" x="250.3" y="621.5" text-anchor="middle" textLength="54.6" lengthAdjust="spacingAndGlyphs">02-13</text>
<g><path d="M81.4 500.4 H138.2 L144.6 513.2 L138.2 526.4 H81.4 Z" fill="#000" opacity="0.05"/><path d="M80.4 499 H138 L144.2 512.2 L138 525.4 H80.4 Z" fill="#fff" stroke="#dadada" stroke-width="1"/>
<text class="hl" x="87.2" y="519.5" textLength="51.8" lengthAdjust="spacingAndGlyphs">78.95</text></g>
</svg></body></html>
